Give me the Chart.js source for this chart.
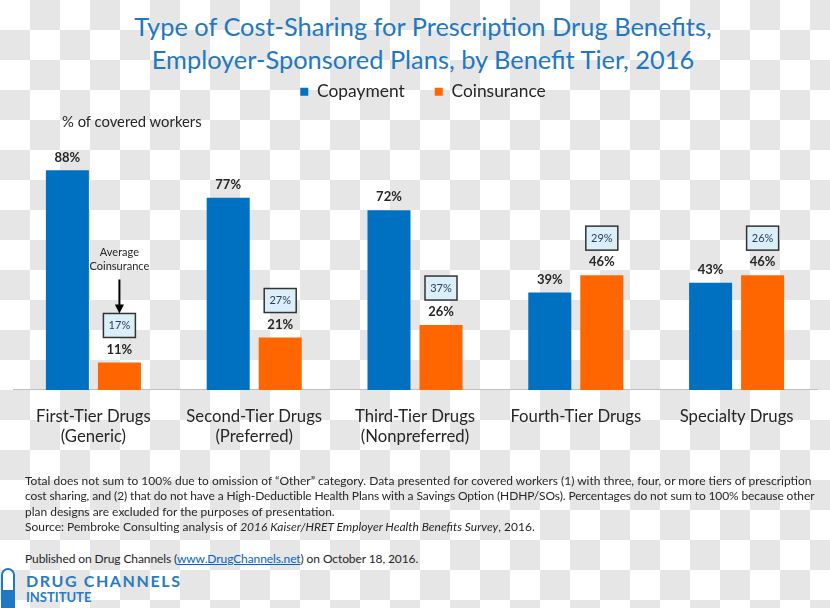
<!DOCTYPE html>
<html>
<head>
<meta charset="utf-8">
<title>Type of Cost-Sharing for Prescription Drug Benefits</title>
<script src="https://cdn.jsdelivr.net/npm/chart.js@4.4.0/dist/chart.umd.min.js"></script>
<style>
  html, body { margin: 0; padding: 0; }
  body {
    width: 830px;
    height: 608px;
    overflow: hidden;
    position: relative;
    font-family: Lato, sans-serif;
    color: #262626;
    background: repeating-conic-gradient(#e6e6e6 0 25%, #fff 0 50%) 0 0 / 60px 60px;
  }
  #title {
    position: absolute;
    left: 8px; top: 10px;
    width: 830px;
    text-align: center;
    color: #1f78c1;
    font-size: 25.4px;
    line-height: 33px;
  }
  #yNote { position: absolute; left: 62px; top: 112px; font-size: 14.8px; }
  #chartBox { position: absolute; left: 0; top: 0; width: 830px; height: 477px; }
  #notes {
    position: absolute;
    left: 25px; top: 473px;
    font-size: 12px;
    line-height: 15.4px;
    white-space: nowrap;
  }
  #notes .tight { letter-spacing: -0.12px; }
  #published { position: absolute; left: 25px; top: 551px; font-size: 12px; letter-spacing: -0.1px; white-space: nowrap; }
  #published a { color: #0563c1; }
  .capsule {
    position: absolute;
    left: 1px; top: 568px;
    width: 10px; height: 44px;
    border: 2px solid #1f78c1;
    border-radius: 7px;
    background: linear-gradient(#fff 45%, #1f78c1 45%);
  }
  .logo1 {
    position: absolute; left: 26px; top: 571px;
    font-size: 16px; font-weight: bold; letter-spacing: 1.6px; color: #2a7bc0;
  }
  .logo2 {
    position: absolute; left: 26px; top: 589px;
    font-size: 13px; font-weight: bold; color: #2a7bc0;
  }
</style>
</head>
<body>
<div id="title">Type of Cost-Sharing for Prescription Drug Benefits,<br>Employer-Sponsored Plans, by Benefit Tier, 2016</div>
<div id="chartBox"><canvas id="chart" width="830" height="477"></canvas></div>
<div id="yNote">% of covered workers</div>
<div id="notes">
  Total does not sum to 100% due to omission of “Other” category. Data presented for covered workers (1) with three, four, or more tiers of prescription<br>
  <span class="tight">cost sharing, and (2) that do not have a High-Deductible Health Plans with a Savings Option (HDHP/SOs). Percentages do not sum to 100% because other</span><br>
  plan designs are excluded for the purposes of presentation.<br>
  Source: Pembroke Consulting analysis of <i>2016 Kaiser/HRET Employer Health Benefits Survey</i>, 2016.
</div>
<div id="published">Published on Drug Channels (<a href="#">www.DrugChannels.net</a>) on October 18, 2016.</div>
<div class="capsule"></div>
<div class="logo1">DRUG CHANNELS</div>
<div class="logo2">INSTITUTE</div>

<script>
const categories = [
    ['First-Tier Drugs', '(Generic)'],
    ['Second-Tier Drugs', '(Preferred)'],
    ['Third-Tier Drugs', '(Nonpreferred)'],
    'Fourth-Tier Drugs',
    'Specialty Drugs'
];
const copayment = [88, 77, 72, 39, 43];
const coinsurance = [11, 21, 26, 46, 46];
const avgCoinsurance = [17, 27, 37, 29, 26];

const BLUE = '#0070c0';
const ORANGE = '#ff6600';

// extra room between legend and plot, and nudge the legend a bit right
const legendMargin = {
    id: 'legendMargin',
    beforeInit(chart) {
        const fit = chart.legend.fit;
        chart.legend.fit = function () {
            fit.bind(chart.legend)();
            this.height += 30;
        };
    },
    afterLayout(chart) {
        chart.legend.left += 8;
        chart.legend.right += 8;
    }
};

// bold % labels above bars
const valueLabels = {
    id: 'valueLabels',
    afterDatasetsDraw(chart) {
        const ctx = chart.ctx;
        ctx.save();
        ctx.font = 'bold 13px Lato';
        ctx.fillStyle = '#262626';
        ctx.textAlign = 'center';
        ctx.textBaseline = 'middle';
        chart.data.datasets.forEach((ds, d) => {
            chart.getDatasetMeta(d).data.forEach((bar, i) => {
                ctx.fillText(ds.data[i] + '%', bar.x, bar.y - 13);
            });
        });
        ctx.restore();
    }
};

// average coinsurance boxes + the "Average Coinsurance" arrow note
const avgBoxes = {
    id: 'avgBoxes',
    afterDatasetsDraw(chart) {
        const ctx = chart.ctx;
        const bars = chart.getDatasetMeta(1).data;
        ctx.save();
        bars.forEach((bar, i) => {
            const cy = bar.y - 37;
            ctx.fillStyle = '#dbeff9';
            ctx.strokeStyle = '#333';
            ctx.lineWidth = 1.5;
            ctx.fillRect(bar.x - 16, cy - 12, 32, 24);
            ctx.strokeRect(bar.x - 16, cy - 12, 32, 24);
            ctx.font = '11px Lato';
            ctx.fillStyle = '#2b3f55';
            ctx.textAlign = 'center';
            ctx.textBaseline = 'middle';
            ctx.fillText(avgCoinsurance[i] + '%', bar.x, cy);
        });

        const first = bars[0];
        const top = first.y - 49;
        ctx.fillStyle = '#262626';
        ctx.font = '11px Lato';
        ctx.fillText('Average', first.x, top - 61);
        ctx.fillText('Coinsurance', first.x, top - 47);
        ctx.strokeStyle = '#000';
        ctx.lineWidth = 2;
        ctx.beginPath();
        ctx.moveTo(first.x, top - 34);
        ctx.lineTo(first.x, top - 6);
        ctx.stroke();
        ctx.fillStyle = '#000';
        ctx.beginPath();
        ctx.moveTo(first.x - 4.5, top - 9);
        ctx.lineTo(first.x + 4.5, top - 9);
        ctx.lineTo(first.x, top);
        ctx.closePath();
        ctx.fill();
        ctx.restore();
    }
};

new Chart(document.getElementById('chart'), {
    type: 'bar',
    data: {
        labels: categories,
        datasets: [{
            label: 'Copayment',
            data: copayment,
            backgroundColor: BLUE,
            categoryPercentage: 0.647,
            barPercentage: 0.827
        }, {
            label: 'Coinsurance',
            data: coinsurance,
            backgroundColor: ORANGE,
            categoryPercentage: 0.647,
            barPercentage: 0.827
        }]
    },
    options: {
        responsive: false,
        animation: false,
        layout: { padding: { top: 53, left: 13, right: 13, bottom: 13 } },
        plugins: {
            title: { display: false },
            tooltip: { enabled: false },
            legend: {
                position: 'top',
                labels: {
                    boxWidth: 8,
                    boxHeight: 8,
                    padding: 30,
                    color: '#262626',
                    font: { family: 'Lato', size: 17.4 }
                }
            }
        },
        scales: {
            x: {
                grid: { display: false, drawTicks: false },
                border: { color: '#bfbfbf', width: 1 },
                ticks: {
                    padding: 17,
                    color: '#262626',
                    font: { family: 'Lato', size: 16.7, lineHeight: 1.2 }
                }
            },
            y: {
                display: false,
                min: 0,
                max: 100
            }
        }
    },
    plugins: [legendMargin, valueLabels, avgBoxes]
});
</script>
</body>
</html>
